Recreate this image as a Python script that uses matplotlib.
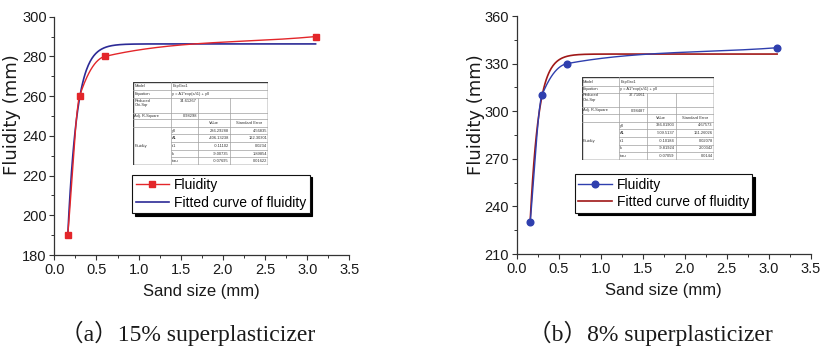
import numpy as np
import matplotlib
matplotlib.use("Agg")
import matplotlib.pyplot as plt
from matplotlib.ticker import MultipleLocator, FormatStrFormatter
from matplotlib.lines import Line2D

plt.rcParams['font.family'] = ['Liberation Sans', 'DejaVu Sans']

# Measured fluidity vs sand size
sand_size = [0.16, 0.3, 0.6, 3.1]
fluidity_15 = [190, 260, 280, 290]
fluidity_8 = [230, 310, 330, 340]

# ExpGro1 fit parameters: y = A1*exp(x/t1) + y0
fit_15 = dict(y0=286.29288, A1=-406.13238, t1=-0.11102)
fit_8 = dict(y0=336.01903, A1=-509.5137, t1=-0.10184)

table_15 = dict(chi="34.61267", r2="0.98298",
                rows=[("y0", "286.29288", "4.56835"),
                      ("A1", "-406.13238", "122.30301"),
                      ("t1", "-0.11102", "0.0234"),
                      ("k", "-9.00735", "1.89854"),
                      ("tau", "-0.07695", "0.01622")])
table_8 = dict(chi="37.71061", r2="0.98487",
               rows=[("y0", "336.01903", "4.67573"),
                     ("A1", "-509.5137", "161.26026"),
                     ("t1", "-0.10184", "0.02078"),
                     ("k", "-9.81924", "2.00342"),
                     ("tau", "-0.07059", "0.0144")])

captions = ["（a）15% superplasticizer", "（b）8% superplasticizer"]

W, H = 824, 347
fig = plt.figure(figsize=(W / 100, H / 100), dpi=100)


def pchip(x, y, xs):
    """Shape-preserving cubic through the measured points."""
    x = np.asarray(x, float)
    y = np.asarray(y, float)
    h = np.diff(x)
    delta = np.diff(y) / h
    d = np.zeros_like(y)
    for k in range(1, len(x) - 1):
        if delta[k - 1] * delta[k] > 0:
            w1 = 2 * h[k] + h[k - 1]
            w2 = h[k] + 2 * h[k - 1]
            d[k] = (w1 + w2) / (w1 / delta[k - 1] + w2 / delta[k])
    d[0] = delta[0]
    d[-1] = delta[-1]
    out = np.empty_like(xs)
    for i, xv in enumerate(xs):
        k = min(max(np.searchsorted(x, xv, side='right') - 1, 0), len(x) - 2)
        t = (xv - x[k]) / h[k]
        h00 = 2 * t**3 - 3 * t**2 + 1
        h10 = t**3 - 2 * t**2 + t
        h01 = -2 * t**3 + 3 * t**2
        h11 = t**3 - t**2
        out[i] = h00 * y[k] + h10 * h[k] * d[k] + h01 * y[k + 1] + h11 * h[k] * d[k + 1]
    return out


def px_axes(x0, y0, x1, y1):
    return fig.add_axes([x0 / W, 1 - y1 / H, (x1 - x0) / W, (y1 - y0) / H])


def draw_table(box, c, r, info):
    x0, y0, x1, y1 = box
    tax = px_axes(x0, y0, x1, y1)
    tax.set_xlim(x0, x1)
    tax.set_ylim(y1, y0)
    tax.axis('off')
    tax.add_patch(plt.Rectangle((x0, y0), x1 - x0, y1 - y0, facecolor='white',
                                edgecolor='none', zorder=0))
    lc = '#a0a0a0'
    lw = 0.5
    for i in range(1, len(r) - 1):
        left = c[1] if i >= 6 else c[0]
        tax.plot([left, c[4]], [r[i], r[i]], color=lc, lw=lw)
    tax.plot([c[1], c[1]], [r[0], r[-1]], color=lc, lw=lw)
    tax.plot([c[2], c[2]], [r[2], r[-1]], color=lc, lw=lw)
    tax.plot([c[3], c[3]], [r[2], r[-1]], color=lc, lw=lw)
    tax.add_patch(plt.Rectangle((x0, y0), x1 - x0, y1 - y0, facecolor='none',
                                edgecolor='#3a3a3a', lw=1.0))
    fs = 2.9
    pad = 1.2
    tc = '#333333'

    def lt(x, y, s):
        tax.text(x + pad, y, s, fontsize=fs, va='center', ha='left', color=tc)

    def rt(x, y, s):
        tax.text(x - pad, y, s, fontsize=fs, va='center', ha='right', color=tc)

    def mid(i):
        return (r[i] + r[i + 1]) / 2

    lt(c[0], mid(0), "Model")
    lt(c[1], mid(0), "ExpGro1")
    lt(c[0], mid(1), "Equation")
    lt(c[1], mid(1), "y = A1*exp(x/t1) + y0")
    lt(c[0], r[2] + 4.5, "Reduced\nChi-Sqr")
    rt(c[2], r[2] + 2.5, info['chi'])
    lt(c[0], mid(3), "Adj. R-Square")
    rt(c[2], mid(3), info['r2'])
    tax.text((c[2] + c[3]) / 2, mid(4), "Value", fontsize=fs, va='center',
             ha='center', color=tc)
    tax.text((c[3] + c[4]) / 2, mid(4), "Standard Error", fontsize=fs,
             va='center', ha='center', color=tc)
    lt(c[0], (r[5] + r[-1]) / 2, "Fluidity")
    for j, (name, val, err) in enumerate(info['rows']):
        i = 5 + j
        lt(c[1], mid(i), name)
        rt(c[3], mid(i), val)
        rt(c[4], mid(i), err)


panels = [
    dict(box=(54.3, 16.7, 349.3, 255.0), y=fluidity_15, fit=fit_15,
         ylim=(180, 300), major=20, minor=10,
         data_color='#e3262a', fit_color='#2c2a96', marker='s', ms=4.3,
         leg=(0.264, 0.176), ylab=(-0.1417, 0.59),
         tbox=(133.3, 81.7, 268.3, 165.0),
         tcols=[133.3, 171.0, 198.3, 230.0, 268.3],
         trows=[81.7, 90.0, 98.3, 113.3, 119.0, 126.7, 134.3, 142.0, 149.7, 157.3, 165.0],
         tinfo=table_15, cap_x=187.5),
    dict(box=(516.7, 16.0, 810.7, 254.0), y=fluidity_8, fit=fit_8,
         ylim=(210, 360), major=30, minor=15,
         data_color='#2f3fae', fit_color='#a01818', marker='o', ms=4.8,
         leg=(0.198, 0.174), ylab=(-0.137, 0.584),
         tbox=(581.7, 77.3, 714.0, 160.0),
         tcols=[581.7, 619.0, 646.7, 676.0, 714.0],
         trows=[77.3, 86.0, 92.7, 106.7, 114.3, 121.7, 129.3, 137.0, 144.7, 152.3, 160.0],
         tinfo=table_8, cap_x=650.5),
]

for k, p in enumerate(panels):
    x0, y0, x1, y1 = p['box']
    ax = px_axes(x0, y0, x1, y1)
    xs = np.linspace(sand_size[0], sand_size[-1], 400)
    ys = pchip(sand_size, p['y'], xs)
    f = p['fit']
    yfit = f['A1'] * np.exp(xs / f['t1']) + f['y0']
    ax.plot(xs, ys, color=p['data_color'], lw=1.0, zorder=3)
    ax.plot(sand_size, p['y'], linestyle='none', marker=p['marker'], ms=p['ms'],
            color=p['data_color'], zorder=4, clip_on=False)
    ax.plot(xs, yfit, color=p['fit_color'], lw=1.2, zorder=2)

    ax.set_xlim(0, 3.5)
    ax.set_ylim(*p['ylim'])
    ax.xaxis.set_major_locator(MultipleLocator(0.5))
    ax.xaxis.set_minor_locator(MultipleLocator(0.25))
    ax.yaxis.set_major_locator(MultipleLocator(p['major']))
    ax.yaxis.set_minor_locator(MultipleLocator(p['minor']))
    ax.xaxis.set_major_formatter(FormatStrFormatter('%.1f'))
    for s in ('top', 'right'):
        ax.spines[s].set_visible(False)
    for s in ('left', 'bottom'):
        ax.spines[s].set_linewidth(0.9)
        ax.spines[s].set_color('#333333')
    ax.tick_params(which='major', direction='out', length=3.5, width=0.8,
                   labelsize=10.5, colors='#333333', labelcolor='#1a1a1a', pad=2)
    ax.tick_params(which='minor', direction='out', length=2.2, width=0.7,
                   colors='#333333')
    ax.set_xlabel("Sand size (mm)", fontsize=12, labelpad=5, color='#1a1a1a')
    ax.set_ylabel("Fluidity (mm)", fontsize=13, color='#1a1a1a',
                  family=['DejaVu Sans'], va='center')
    ax.yaxis.set_label_coords(*p['ylab'])

    h1 = Line2D([], [], color=p['data_color'], lw=1.0, marker=p['marker'], ms=p['ms'])
    h2 = Line2D([], [], color=p['fit_color'], lw=1.2)
    leg = ax.legend([h1, h2], ["Fluidity", "Fitted curve of fluidity"],
                    loc='lower left', bbox_to_anchor=p['leg'], fontsize=10,
                    frameon=True, fancybox=False, edgecolor='#111111',
                    shadow={'color': 'black', 'alpha': 1.0},
                    borderpad=0.25, handlelength=2.4, handletextpad=0.35,
                    labelspacing=0.25, borderaxespad=0)
    leg.get_frame().set_linewidth(0.8)

    draw_table(p['tbox'], p['tcols'], p['trows'], p['tinfo'])

    fig.text(p['cap_x'] / W, 1 - 341 / H, captions[k], ha='center', va='baseline',
             fontsize=17, color='#1a1a1a',
             family=['Liberation Serif', 'Noto Sans CJK SC'])

fig.savefig("out.png", dpi=100, facecolor='white')
